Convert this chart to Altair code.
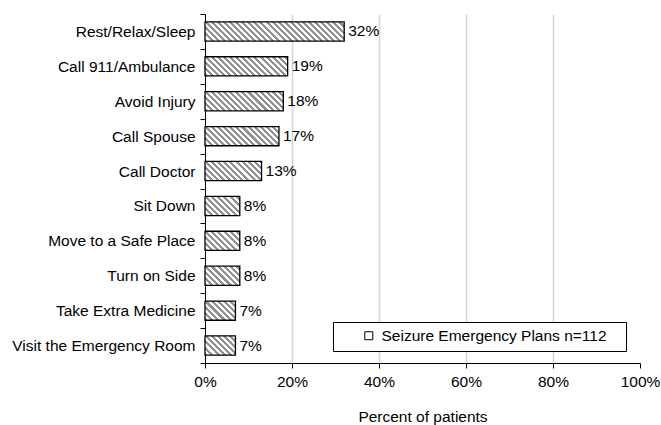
import math
import altair as alt

categories = [
    "Rest/Relax/Sleep",
    "Call 911/Ambulance",
    "Avoid Injury",
    "Call Spouse",
    "Call Doctor",
    "Sit Down",
    "Move to a Safe Place",
    "Turn on Side",
    "Take Extra Medicine",
    "Visit the Emergency Room",
]
percents = [32, 19, 18, 17, 13, 8, 8, 8, 7, 7]
x_ticks = [0, 20, 40, 60, 80, 100]
series_name = "Seizure Emergency Plans n=112"

PLOT_W = 435
PLOT_H = 349
BAND = 0.55
BAR_H = PLOT_H / len(categories) * BAND
PERIOD = 4.3
FONT = "Liberation Sans"
FS = 15.5


def hatch(value):
    """Diagonal stripe fill built as a hard-stop linear gradient."""
    w = max(value / 100 * PLOT_W, 1.0)
    h = BAR_H
    k = (w + h) / (w * w + h * h)
    span = (w + h) / math.sqrt(2)
    stops = []
    i = 0
    while i * PERIOD < span:
        a = i * PERIOD / span
        b = min((i + 0.5) * PERIOD / span, 1.0)
        c = min((i + 1) * PERIOD / span, 1.0)
        stops += [
            {"offset": a, "color": "#919191"},
            {"offset": b, "color": "#919191"},
            {"offset": b, "color": "#ffffff"},
            {"offset": c, "color": "#ffffff"},
        ]
        i += 1
    return {"gradient": "linear", "x1": 0, "y1": 1, "x2": w * k, "y2": 1 - h * k, "stops": stops}


rows = [
    {"category": c, "pct": p, "series": series_name, "hatch": hatch(p)}
    for c, p in zip(categories, percents)
]
data = alt.Data(values=rows)

x_enc = alt.X(
    "pct:Q",
    scale=alt.Scale(domain=[0, 100]),
    axis=alt.Axis(
        values=x_ticks,
        labelExpr="datum.value + '%'",
        labelFlush=False,
        title="Percent of patients",
        grid=True,
        gridColor="#d4d4d4",
        gridWidth=1.5,
        gridOpacity={"condition": {"test": "datum.value <= 0 || datum.value >= 100", "value": 0}, "value": 1},
        tickSize=5,
        labelPadding=6,
        titlePadding=20,
    ),
)
y_enc = alt.Y(
    "category:N",
    sort=categories,
    scale=alt.Scale(paddingInner=0, paddingOuter=0),
    axis=alt.Axis(title=None, tickBand="extent", tickSize=5, labelPadding=5, grid=False, labelLimit=300),
)

bars = alt.Chart(data).mark_bar(height={"band": BAND}, strokeWidth=1.3).encode(
    x=x_enc,
    y=y_enc,
    fill=alt.Fill("hatch:N", scale=None),
    stroke=alt.Stroke(
        "series:N",
        scale=alt.Scale(range=["black"]),
        legend=alt.Legend(
            title=None,
            orient="none",
            legendX=128,
            legendY=308,
            symbolType="square",
            symbolSize=64,
            symbolFillColor="white",
            symbolStrokeWidth=1,
            symbolOffset=22,
            labelOffset=5,
            labelExpr="datum.label + '\u00a0\u00a0\u00a0\u200b'",
            padding=6,
            strokeColor="black",
            fillColor="white",
            labelFontSize=FS,
            labelFont=FONT,
            labelColor="black",
            labelLimit=400,
        ),
    ),
)

labels = alt.Chart(data).mark_text(
    align="left", baseline="middle", dx=4, fontSize=FS, font=FONT, color="black"
).transform_calculate(lbl="datum.pct + '%'").encode(
    x="pct:Q",
    y=alt.Y("category:N", sort=categories),
    text="lbl:N",
)

chart = (
    alt.layer(bars, labels)
    .properties(
        width=PLOT_W,
        height=PLOT_H,
        background="white",
        autosize=alt.AutoSizeParams(type="none"),
        padding={"left": 205, "top": 14, "right": 21, "bottom": 62},
    )
    .configure_view(stroke=None)
    .configure_axis(
        labelFont=FONT,
        titleFont=FONT,
        labelFontSize=FS,
        titleFontSize=FS,
        titleFontWeight="normal",
        labelColor="black",
        titleColor="black",
        domainColor="black",
        tickColor="black",
        domainWidth=1,
        tickWidth=1,
    )
)

chart.save("out.html", embed_options={"renderer": "svg", "actions": False})
